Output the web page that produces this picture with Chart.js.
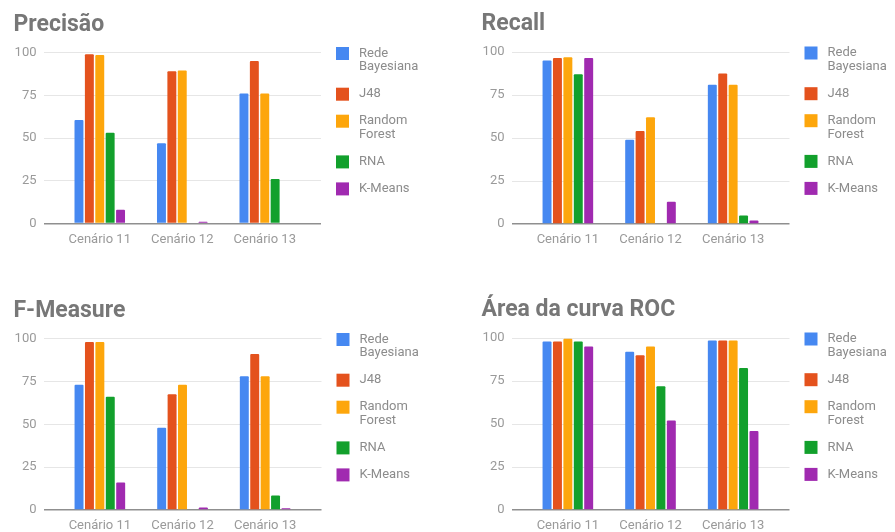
<!DOCTYPE html>
<html>
<head>
<meta charset="utf-8">
<script src="https://cdn.jsdelivr.net/npm/chart.js@4.4.1/dist/chart.umd.min.js"></script>
<style>
  html, body { margin: 0; padding: 0; background: #ffffff; overflow: hidden; }
  #wrap { position: relative; width: 895px; height: 532px; overflow: hidden; }
  .panel { position: absolute; }
</style>
</head>
<body>
<div id="wrap">
  <div class="panel" style="left:0;top:0;width:450px;height:280px"><canvas id="chartPrecisao"></canvas></div>
  <div class="panel" style="left:450px;top:0;width:445px;height:280px"><canvas id="chartRecall"></canvas></div>
  <div class="panel" style="left:0;top:266px;width:450px;height:290px"><canvas id="chartFMeasure"></canvas></div>
  <div class="panel" style="left:450px;top:266px;width:445px;height:290px"><canvas id="chartRoc"></canvas></div>
</div>
<script>
// Scenarios on the x axis and the five classifiers compared
const categories = ['Cenário 11', 'Cenário 12', 'Cenário 13'];
const seriesNames = ['Rede Bayesiana', 'J48', 'Random Forest', 'RNA', 'K-Means'];
const yTickValues = [0, 25, 50, 75, 100];

// Precisão (%), one row per classifier, one value per scenario
const precisaoRedeBayesiana = [60.5, 47, 76];
const precisaoJ48 = [99, 89, 95];
const precisaoRandomForest = [98.5, 89.5, 76];
const precisaoRNA = [53, 0, 26];
const precisaoKMeans = [8, 1, 0.4];

// Recall (%)
const recallRedeBayesiana = [95, 49, 81];
const recallJ48 = [96.5, 54, 87.5];
const recallRandomForest = [97, 62, 81];
const recallRNA = [87, 0, 5];
const recallKMeans = [96.5, 13, 2];

// F-Measure (%)
const fMeasureRedeBayesiana = [73, 48, 78];
const fMeasureJ48 = [98, 67.5, 91];
const fMeasureRandomForest = [98, 73, 78];
const fMeasureRNA = [66, 0, 8.5];
const fMeasureKMeans = [16, 1.5, 1];

// Área da curva ROC (%)
const rocRedeBayesiana = [98, 92, 98.5];
const rocJ48 = [98, 90, 98.5];
const rocRandomForest = [99.5, 95, 98.5];
const rocRNA = [98, 72, 82.5];
const rocKMeans = [95, 52, 46];

const seriesColors = ['#4688f1', '#e4521d', '#fda60c', '#12a02c', '#a02ab0'];

const FONT = 'Roboto, "Noto Sans", sans-serif';
const AXIS_W = 30;   // width reserved for the y tick labels
const XAXIS_H = 30;  // height reserved for the category labels

// Legend on the right: colour square plus a label wrapped onto two lines when long
function wrapLabel(ctx, text, maxWidth) {
  const words = text.split(' ');
  const lines = [];
  let cur = '';
  words.forEach(w => {
    const test = cur ? cur + ' ' + w : w;
    if (cur && ctx.measureText(test).width > maxWidth) {
      lines.push(cur);
      cur = w;
    } else {
      cur = test;
    }
  });
  if (cur) lines.push(cur);
  return lines;
}

const sideLegend = {
  id: 'sideLegend',
  afterDraw(chart) {
    const ctx = chart.ctx;
    const area = chart.chartArea;
    const boxX = area.right + 15;
    const textX = boxX + 23;
    const lineH = 13.7;
    let y = area.top + 1;
    ctx.save();
    ctx.font = '13px ' + FONT;
    ctx.textBaseline = 'middle';
    ctx.textAlign = 'left';
    chart.data.datasets.forEach(ds => {
      const lines = wrapLabel(ctx, ds.label, 66);
      ctx.fillStyle = ds.backgroundColor;
      ctx.fillRect(boxX, y - 6.5, 13, 13);
      ctx.fillStyle = '#8c8c8c';
      lines.forEach((ln, k) => ctx.fillText(ln, textX, y + k * lineH));
      y += (lines.length - 1) * lineH + 27;
    });
    ctx.restore();
  }
};

function buildChart(canvasId, title, seriesValues, geo) {
  const canvas = document.getElementById(canvasId);
  const W = canvas.parentNode.clientWidth;
  const H = canvas.parentNode.clientHeight;
  const ext = 0.182; // empty space on each side of the three groups, in category units
  const xLo = 1 - 0.5 - ext;
  const xHi = categories.length + 0.5 + ext;
  return new Chart(canvas, {
    type: 'bar',
    data: {
      datasets: seriesNames.map((name, s) => ({
        label: name,
        data: seriesValues[s].map((v, i) => ({ x: i + 1, y: v })),
        backgroundColor: seriesColors[s],
        borderWidth: 0,
        borderRadius: { topLeft: 1, topRight: 1 },
        categoryPercentage: 0.63,
        barPercentage: 0.86
      }))
    },
    options: {
      responsive: true,
      maintainAspectRatio: false,
      animation: false,
      events: [],
      layout: {
        padding: {
          left: geo.L - AXIS_W,
          right: W - geo.R,
          top: geo.T - 39,
          bottom: H - geo.B - XAXIS_H
        }
      },
      plugins: {
        legend: { display: false },
        tooltip: { enabled: false },
        title: {
          display: true,
          text: title,
          align: 'start',
          color: '#777777',
          font: { family: FONT, size: 23, weight: 'bold', lineHeight: 1 },
          padding: { top: 0, bottom: 16 }
        }
      },
      scales: {
        x: {
          type: 'linear',
          offset: false,
          bounds: 'data',
          min: xLo,
          max: xHi,
          grid: { display: false, offset: false },
          border: { display: false },
          afterDataLimits: scale => { scale.min = xLo; scale.max = xHi; },
          afterBuildTicks: scale => {
            scale.ticks = categories.map((c, i) => ({ value: i + 1 }));
            scale.min = xLo;
            scale.max = xHi;
          },
          afterFit: scale => { scale.height = XAXIS_H; },
          ticks: {
            autoSkip: false,
            maxRotation: 0,
            padding: 0,
            color: '#9a9a9a',
            font: { family: FONT, size: 13 },
            callback: value => categories[Math.round(value) - 1]
          }
        },
        y: {
          min: 0,
          max: 100,
          border: { display: false },
          afterBuildTicks: scale => { scale.ticks = yTickValues.map(v => ({ value: v })); },
          afterFit: scale => { scale.width = AXIS_W; },
          grid: {
            drawTicks: false,
            color: c => (c.tick && c.tick.value === 0) ? '#8f8f8f' : '#e6e6e6',
            lineWidth: c => (c.tick && c.tick.value === 0) ? 1.6 : 1
          },
          ticks: {
            padding: 7,
            color: '#9a9a9a',
            font: { family: FONT, size: 13 }
          }
        }
      }
    },
    plugins: [sideLegend]
  });
}

buildChart('chartPrecisao', 'Precisão',
  [precisaoRedeBayesiana, precisaoJ48, precisaoRandomForest, precisaoRNA, precisaoKMeans],
  { L: 43.5, R: 321, T: 52.5, B: 223.5 });
buildChart('chartRecall', 'Recall',
  [recallRedeBayesiana, recallJ48, recallRandomForest, recallRNA, recallKMeans],
  { L: 61.5, R: 339.5, T: 52, B: 224 });
buildChart('chartFMeasure', 'F-Measure',
  [fMeasureRedeBayesiana, fMeasureJ48, fMeasureRandomForest, fMeasureRNA, fMeasureKMeans],
  { L: 43.5, R: 321.5, T: 72.5, B: 244 });
buildChart('chartRoc', 'Área da curva ROC',
  [rocRedeBayesiana, rocJ48, rocRandomForest, rocRNA, rocKMeans],
  { L: 61.5, R: 339.5, T: 72, B: 244 });
</script>
</body>
</html>
